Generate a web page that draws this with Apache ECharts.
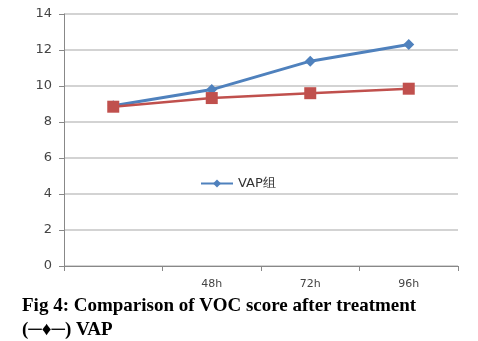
<!DOCTYPE html>
<html><head><meta charset="utf-8">
<script src="https://cdn.jsdelivr.net/npm/echarts@6/dist/echarts.min.js"></script>
<style>html,body{margin:0;padding:0;background:#fff}#c{width:478px;height:341px}</style>
</head><body><div id="c"></div>
<script>
var categories = ['', '48h', '72h', '96h'];
var vapValues = [8.9, 9.8, 11.38, 12.3];
var ctrlValues = [8.85, 9.33, 9.6, 9.85];
var yTicks = [0, 2, 4, 6, 8, 10, 12, 14];
var legendName = 'VAP组';
var captionLine1 = 'Fig 4: Comparison of VOC score after treatment';
var captionLine2 = '(\u2500\u2666\u2500) VAP';

var chart = echarts.init(document.getElementById('c'));
chart.setOption({
  animation: false,
  backgroundColor: '#fff',
  grid: {left: 64, right: 20, top: 14, bottom: 75},
  legend: {
    data: [legendName], left: 195, top: 172, itemWidth: 32, itemHeight: 10, itemGap: 4,
    textStyle: {fontFamily: 'DejaVu Sans', fontSize: 13, color: '#333'}
  },
  xAxis: {
    type: 'category', data: categories, boundaryGap: true,
    axisLine: {lineStyle: {color: '#888', width: 1}},
    axisTick: {show: true, length: 5, lineStyle: {color: '#888'}},
    axisLabel: {color: '#444', fontFamily: 'DejaVu Sans', fontSize: 11, margin: 13},
    splitLine: {show: false}
  },
  yAxis: {
    type: 'value', min: yTicks[0], max: yTicks[yTicks.length - 1], interval: 2,
    axisLine: {show: true, lineStyle: {color: '#888', width: 1}},
    axisTick: {show: true, length: 5, lineStyle: {color: '#888'}},
    axisLabel: {color: '#444', fontFamily: 'DejaVu Sans', fontSize: 13, margin: 12},
    splitLine: {lineStyle: {color: '#c4c4c4', width: 1.5}}
  },
  series: [
    {
      name: 'Control', type: 'line', data: ctrlValues, symbol: 'rect', symbolSize: 12,
      lineStyle: {color: '#c0504d', width: 2.5}, itemStyle: {color: '#c0504d'}, z: 3
    },
    {
      name: legendName, type: 'line', data: vapValues, symbol: 'diamond', symbolSize: 11,
      lineStyle: {color: '#4f81bd', width: 3}, itemStyle: {color: '#4f81bd'}, z: 2
    }
  ],
  graphic: [
    {type: 'text', left: 22, top: 297, style: {text: captionLine1, font: 'bold 19px "Liberation Serif"', fill: '#000'}},
    {type: 'text', left: 22, top: 321, style: {text: captionLine2, font: 'bold 19px "Liberation Serif"', fill: '#000'}}
  ]
});
</script></body></html>
